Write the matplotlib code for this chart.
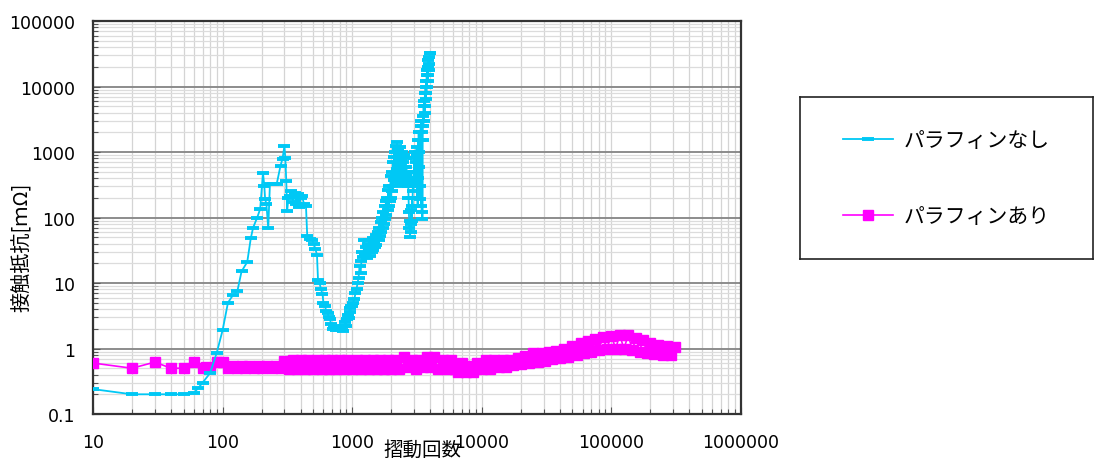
import matplotlib
matplotlib.use("Agg")
import matplotlib.pyplot as plt
from matplotlib.ticker import FixedLocator, FixedFormatter, LogLocator, NullFormatter

# 接触抵抗の推移 (パラフィンなし)
cyan_x = [10, 20, 30, 40, 50, 60, 65, 70, 80, 90,
          100, 110, 120, 130, 140, 155, 165, 172, 185, 195,
          205, 210, 213, 218, 225, 232, 245, 262, 280, 290,
          300, 305, 310, 315, 322, 330, 340, 350, 360, 370,
          380, 390, 400, 410, 425, 440, 450, 470, 490, 505,
          520, 535, 545, 560, 575, 590, 600, 615, 630, 645,
          660, 670, 690, 710, 730, 750, 770, 790, 810, 830,
          850, 865, 880, 895, 910, 925, 940, 955, 970, 985,
          1000, 1020, 1040, 1060, 1080, 1100, 1120, 1140, 1160, 1180,
          1200, 1220, 1240, 1260, 1280, 1300, 1320, 1340, 1360, 1380,
          1400, 1420, 1440, 1460, 1480, 1500, 1520, 1540, 1560, 1580,
          1600, 1620, 1640, 1660, 1680, 1700, 1720, 1740, 1760, 1780,
          1800, 1820, 1840, 1860, 1880, 1900, 1920, 1940, 1960, 1980,
          2000, 2020, 2040, 2060, 2080, 2100, 2120, 2140, 2160, 2180,
          2200, 2220, 2240, 2260, 2280, 2300, 2320, 2340, 2360, 2380,
          2400, 2420, 2440, 2460, 2480, 2500, 2520, 2540, 2560, 2580,
          2600, 2620, 2640, 2660, 2680, 2700, 2720, 2740, 2760, 2780,
          2800, 2820, 2840, 2860, 2880, 2900, 2920, 2940, 2960, 2980,
          3000, 3020, 3040, 3060, 3080, 3100, 3120, 3140, 3160, 3180,
          3200, 3220, 3240, 3260, 3280, 3300, 3320, 3340, 3360, 3380,
          3400, 3420, 3440, 3460, 3480, 3500, 3520, 3540, 3560, 3580,
          3600, 3620, 3640, 3660, 3680, 3700, 3720, 3740, 3760, 3780,
          3800, 3820, 3840, 3860, 3880, 3900, 3920, 3940, 3960, 3980,
          4000]
cyan_y = [0.24, 0.20, 0.20, 0.20, 0.20, 0.21, 0.25, 0.30, 0.42, 0.85,
          1.9, 5.0, 6.5, 7.5, 15, 21, 48, 70, 100, 135,
          480, 300, 190, 160, 68, 330, 320, 330, 620, 790,
          1230, 800, 360, 125, 200, 215, 250, 170, 240, 160,
          230, 145, 200, 215, 160, 150, 52, 47, 45, 40,
          33, 27, 11, 10, 8, 6.8, 5, 4.5, 3.8, 3.5,
          3.0, 2.8, 2.4, 2.0, 2.2, 1.9, 2.0, 1.9, 2.1, 1.9,
          1.85, 2.2, 2.5, 2.2, 2.8, 3.3, 2.9, 4.2, 3.6, 4.5,
          4.5, 5, 5.7, 7, 8, 10, 12, 18, 14, 22,
          30, 25, 46, 28, 35, 24, 40, 30, 45, 26,
          38, 30, 48, 32, 42, 35, 55, 38, 48, 60,
          45, 70, 52, 85, 60, 100, 70, 120, 80, 150,
          95, 180, 110, 200, 130, 260, 150, 300, 180, 430,
          200, 500, 250, 700, 300, 850, 380, 1000, 450, 1230,
          550, 1400, 600, 1100, 400, 900, 350, 1200, 500, 800,
          320, 1000, 450, 700, 350, 900, 400, 600, 300, 800,
          450, 600, 350, 500, 300, 400, 200, 120, 70, 90,
          50, 80, 60, 130, 90, 200, 150, 350, 250, 500,
          300, 800, 400, 1000, 500, 700, 300, 1200, 200, 900,
          150, 1500, 400, 2000, 600, 1000, 300, 1500, 190, 2500,
          150, 3000, 120, 2000, 95, 1500, 3500, 2500, 5000, 3000,
          6000, 4000, 8000, 5000, 10000, 6500, 12000, 8000, 15000, 10000,
          18000, 12000, 20000, 15000, 25000, 18000, 28000, 22000, 32000, 33000,
          32000]

# 接触抵抗の推移 (パラフィンあり)
magenta_x = [10, 20, 30, 40, 50, 60,
             70, 75, 80, 90, 100, 110, 120, 130, 140, 150,
             160, 175, 190, 200, 220, 240, 260, 280, 300, 325,
             350, 375, 400, 430, 460, 500, 540, 580, 620, 660,
             700, 750, 800, 860, 920, 1000, 1080, 1160, 1250, 1350,
             1450, 1550, 1650, 1750, 1900, 2000, 2150, 2300, 2500, 2700,
             2900, 3100, 3300, 3500, 3750, 4000, 4300, 4600, 5000, 5400,
             5800, 6200, 6600, 7000, 7500, 8000, 8600, 9200, 10000, 10800,
             11600, 12500, 13500, 14500, 15500, 16500, 17500, 19000, 20000, 21500,
             23000, 25000, 27000, 29000, 31000, 33000, 35000, 37500, 40000, 43000,
             46000, 50000, 54000, 58000, 62000, 66000, 70000, 75000, 80000, 86000,
             92000, 100000, 108000, 116000, 125000, 135000, 145000, 155000, 165000, 175000,
             190000, 200000, 215000, 230000, 250000, 270000, 290000, 310000]
magenta_y = [0.60, 0.50, 0.62, 0.50, 0.50, 0.62,
             0.50, 0.52, 0.50, 0.62, 0.62, 0.50, 0.55, 0.50, 0.55, 0.50,
             0.55, 0.50, 0.55, 0.50, 0.55, 0.50, 0.55, 0.50, 0.64, 0.48,
             0.66, 0.48, 0.66, 0.48, 0.66, 0.48, 0.66, 0.48, 0.66, 0.48,
             0.66, 0.48, 0.66, 0.48, 0.66, 0.48, 0.66, 0.48, 0.66, 0.48,
             0.66, 0.48, 0.66, 0.48, 0.66, 0.48, 0.66, 0.48, 0.74, 0.52,
             0.66, 0.48, 0.66, 0.52, 0.74, 0.52, 0.74, 0.48, 0.66, 0.48,
             0.66, 0.48, 0.44, 0.60, 0.44, 0.55, 0.44, 0.60, 0.48, 0.66,
             0.48, 0.66, 0.52, 0.66, 0.52, 0.66, 0.56, 0.72, 0.58, 0.76,
             0.60, 0.85, 0.62, 0.85, 0.64, 0.88, 0.68, 0.92, 0.72, 1.0,
             0.74, 1.1, 0.80, 1.2, 0.86, 1.3, 0.90, 1.4, 0.95, 1.5,
             1.0, 1.55, 1.0, 1.6, 1.0, 1.6, 0.95, 1.45, 0.9, 1.35,
             0.85, 1.2, 0.82, 1.15, 0.80, 1.1, 0.80, 1.05]

x_ticks = [10, 100, 1000, 10000, 100000, 1000000]
x_labels = ['10', '100', '1000', '10000', '100000', '1000000']
y_ticks = [0.1, 1, 10, 100, 1000, 10000, 100000]
y_labels = ['0.1', '1', '10', '100', '1000', '10000', '100000']

series_names = ['パラフィンなし', 'パラフィンあり']
cyan = '#00c8f5'
magenta = '#ff00ff'

jp_font = ['Noto Sans CJK JP', 'DejaVu Sans']

fig = plt.figure(figsize=(10.94, 4.6), dpi=100)
ax = fig.add_axes([0.085, 0.0978, 0.5923, 0.8543])

l2, = ax.plot(magenta_x, magenta_y, color=magenta, lw=1.2, marker='s',
              ms=7, mec=magenta, mfc=magenta, zorder=3)
l1, = ax.plot(cyan_x, cyan_y, color=cyan, lw=1.3, marker='_',
              ms=8.5, mew=2.8, zorder=4)

ax.set_xscale('log')
ax.set_yscale('log')
ax.set_xlim(10, 1000000)
ax.set_ylim(0.1, 100000)

ax.xaxis.set_major_locator(FixedLocator(x_ticks))
ax.xaxis.set_major_formatter(FixedFormatter(x_labels))
ax.yaxis.set_major_locator(FixedLocator(y_ticks))
ax.yaxis.set_major_formatter(FixedFormatter(y_labels))
ax.xaxis.set_minor_locator(LogLocator(base=10, subs=[2, 3, 4, 5, 6, 7, 8, 9], numticks=20))
ax.yaxis.set_minor_locator(LogLocator(base=10, subs=[2, 3, 4, 5, 6, 7, 8, 9], numticks=20))
ax.xaxis.set_minor_formatter(NullFormatter())
ax.yaxis.set_minor_formatter(NullFormatter())

ax.tick_params(which='both', direction='in', color='#555555', width=0.8)
ax.tick_params(which='major', length=5)
ax.tick_params(which='minor', length=3.5)
ax.tick_params(axis='x', which='major', pad=14, labelsize=12.5)
ax.tick_params(axis='y', which='major', pad=13, labelsize=12.5)

ax.grid(which='major', axis='y', color='#8c8c8c', lw=1.4, zorder=1)
ax.grid(which='minor', axis='y', color='#dcdcdc', lw=0.9, zorder=1)
ax.grid(which='both', axis='x', color='#d4d4d4', lw=0.9, zorder=1)
ax.set_axisbelow(True)

for s in ax.spines.values():
    s.set_color('#333333')
    s.set_linewidth(1.6)

fig.text(0.020, 0.463, '接触抵抗[ｍΩ]', rotation=90, ha='center', va='center',
         fontsize=14.5, family=jp_font)
fig.text(0.386, 0.044, '摺動回数', ha='center', va='top',
         fontsize=14, family=jp_font)

# 凡例は枠付きの別領域に置く
leg_ax = fig.add_axes([0.7313, 0.4348, 0.268, 0.352])
leg_ax.set_xticks([])
leg_ax.set_yticks([])
for s in leg_ax.spines.values():
    s.set_color('#222222')
    s.set_linewidth(1.2)
leg_ax.legend([l1, l2], series_names, loc='center', frameon=False,
              prop={'family': jp_font, 'size': 15}, labelspacing=2.6,
              handlelength=2.4, handletextpad=0.5, markerscale=1.0)

fig.savefig('out.png', dpi=100)
